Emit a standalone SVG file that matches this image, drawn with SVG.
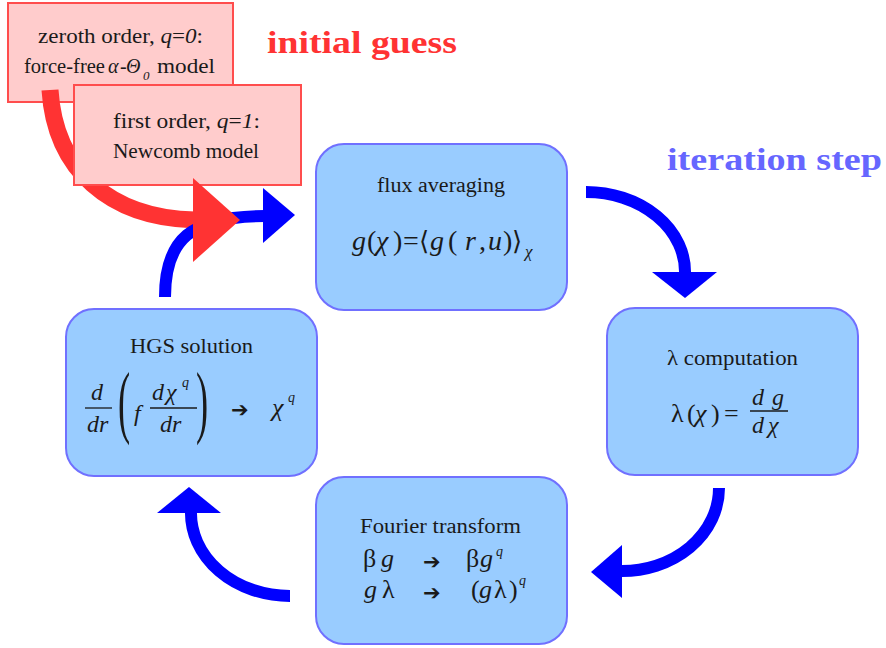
<svg xmlns="http://www.w3.org/2000/svg" width="886" height="648" viewBox="0 0 886 648">
<defs>
<style>
.pink{fill:#ffcccc;stroke:#ff4d4d;stroke-width:2}
.blue{fill:#99ccff;stroke:#7070ff;stroke-width:2}
.t{font-family:"Liberation Serif","Times New Roman",serif;fill:#1a1a1a}
.i{font-style:italic}
.n{font-style:normal}
.ar{font-family:"DejaVu Sans",sans-serif;font-weight:bold;fill:#1a1a1a;font-style:normal}
.br{font-family:"DejaVu Serif",serif;font-style:normal}
.bshaft{fill:none;stroke:#0000ff;stroke-width:12}
.bhead{fill:#0000ff}
.rshaft{fill:none;stroke:#ff3333;stroke-width:17}
.rhead{fill:#ff3333}
.title{font-family:"Liberation Serif","Times New Roman",serif;font-weight:bold;font-size:31px}
.fl{stroke:#1a1a1a;stroke-width:1.3}
</style>
</defs>
<rect width="886" height="648" fill="#ffffff"/>

<g id="title-initial">
<text class="title" x="267" y="53" fill="#ff3333" textLength="190" lengthAdjust="spacingAndGlyphs">initial guess</text>
</g>
<g id="title-iteration">
<text class="title" x="667" y="170" fill="#6666ff" textLength="215" lengthAdjust="spacingAndGlyphs">iteration step</text>
</g>

<g id="zeroth-order">
<rect class="pink" x="8" y="3" width="225" height="99"/>
<text class="t" x="38" y="43" font-size="20" textLength="165" lengthAdjust="spacingAndGlyphs">zeroth order, <tspan class="i">q</tspan>=<tspan class="i">0</tspan>:</text>
<text class="t" y="73" font-size="20"><tspan x="24" textLength="81" lengthAdjust="spacingAndGlyphs">force-free</tspan><tspan x="108" class="i">α</tspan><tspan x="120">-</tspan><tspan x="126" class="i">Θ</tspan><tspan x="143" y="80" font-size="13" class="i">0</tspan><tspan x="157" y="73" textLength="58" lengthAdjust="spacingAndGlyphs">model</tspan></text>
</g>

<g id="connectors-back">
<path class="rshaft" d="M50,90 C55,170 110,218 195,220"/>
</g>

<g id="first-order">
<rect class="pink" x="74" y="85" width="227" height="100"/>
<text class="t" x="113" y="128" font-size="20" textLength="147" lengthAdjust="spacingAndGlyphs">first order, <tspan class="i">q</tspan>=<tspan class="i">1</tspan>:</text>
<text class="t" x="113" y="158" font-size="20" textLength="146" lengthAdjust="spacingAndGlyphs">Newcomb model</text>
</g>

<g id="flux-averaging">
<rect class="blue" x="316" y="144" width="251" height="166" rx="28"/>
<text class="t" x="377" y="192" font-size="20" textLength="128" lengthAdjust="spacingAndGlyphs">flux averaging</text>
<text class="t i" y="250" font-size="28"><tspan x="352">g</tspan><tspan x="367" class="n">(</tspan><tspan x="376">χ</tspan><tspan x="393" class="n">)</tspan><tspan x="403" class="n">=</tspan><tspan x="419" class="br" font-size="26">⟨</tspan><tspan x="430">g</tspan><tspan x="448" class="n">(</tspan><tspan x="465">r</tspan><tspan x="479" class="n">,</tspan><tspan x="488">u</tspan><tspan x="503" class="n">)</tspan><tspan x="512" class="br" font-size="26">⟩</tspan><tspan x="525" y="257" font-size="17">χ</tspan></text>
</g>

<g id="lambda-computation">
<rect class="blue" x="607" y="308" width="251" height="167" rx="28"/>
<text class="t" x="667" y="365" font-size="20" textLength="131" lengthAdjust="spacingAndGlyphs">λ computation</text>
<text class="t i" y="422" font-size="26"><tspan x="671" class="n">λ</tspan><tspan x="687" class="n">(</tspan><tspan x="695">χ</tspan><tspan x="711" class="n">)</tspan><tspan x="724" class="n">=</tspan></text>
<line class="fl" x1="750" y1="411" x2="788" y2="411"/>
<text class="t i" font-size="24"><tspan x="752" y="405">d</tspan><tspan x="772" y="405">g</tspan><tspan x="752" y="433">d</tspan><tspan x="768" y="433">χ</tspan></text>
</g>

<g id="hgs-solution">
<rect class="blue" x="66" y="309" width="251" height="167" rx="28"/>
<text class="t" x="130" y="353" font-size="20" textLength="123" lengthAdjust="spacingAndGlyphs">HGS solution</text>
<text class="t i" font-size="24"><tspan x="91" y="400">d</tspan><tspan x="87" y="432">dr</tspan></text>
<line class="fl" x1="85" y1="408" x2="112" y2="408"/>
<text class="t" font-size="81" transform="translate(118,428) scale(0.45,1)">(</text>
<text class="t i" x="134" y="421" font-size="24">f</text>
<text class="t i" font-size="24"><tspan x="152" y="400">d</tspan><tspan x="166" y="400">χ</tspan><tspan x="182" y="387" font-size="14">q</tspan><tspan x="160" y="432">dr</tspan></text>
<line class="fl" x1="150" y1="408" x2="197" y2="408"/>
<text class="t" font-size="81" transform="translate(196,428) scale(0.45,1)">)</text>
<text class="ar" x="231" y="417" font-size="21">➔</text>
<text class="t i" font-size="26"><tspan x="272" y="416">χ</tspan><tspan x="288" y="402" font-size="14">q</tspan></text>
</g>

<g id="fourier-transform">
<rect class="blue" x="316" y="477" width="251" height="167" rx="28"/>
<text class="t" x="360" y="533" font-size="20" textLength="161" lengthAdjust="spacingAndGlyphs">Fourier transform</text>
<text class="t i" font-size="26"><tspan x="363" y="567" class="n">β</tspan><tspan x="381" y="567">g</tspan><tspan x="466" y="567" class="n">β</tspan><tspan x="480" y="567">g</tspan><tspan x="496" y="556" font-size="14">q</tspan></text>
<text class="ar" x="423" y="569" font-size="21">➔</text>
<text class="t i" font-size="26"><tspan x="364" y="598">g</tspan><tspan x="382" y="598" class="n">λ</tspan><tspan x="471" y="598" class="n">(</tspan><tspan x="479" y="598">g</tspan><tspan x="494" y="598" class="n">λ</tspan><tspan x="509" y="598" class="n">)</tspan><tspan x="519" y="585" font-size="14">q</tspan></text>
<text class="ar" x="423" y="600" font-size="21">➔</text>
</g>

<g id="connectors">
<path class="bshaft" d="M165,297 C165,240 190,216 265,216"/>
<polygon class="bhead" points="263,188 263,243 295,215"/>
<path class="bshaft" d="M586,192 A99 80 0 0 1 685,274"/>
<polygon class="bhead" points="652,272 717,272 685,298"/>
<path class="bshaft" d="M719,488 A97 83 0 0 1 620,571"/>
<polygon class="bhead" points="622,545 622,598 591,572"/>
<path class="bshaft" d="M290,596 A99 83 0 0 1 191,511"/>
<polygon class="bhead" points="157,513 221,513 189,487"/>
<polygon class="rhead" points="193,178 193,262 240,220"/>
</g>
</svg>
